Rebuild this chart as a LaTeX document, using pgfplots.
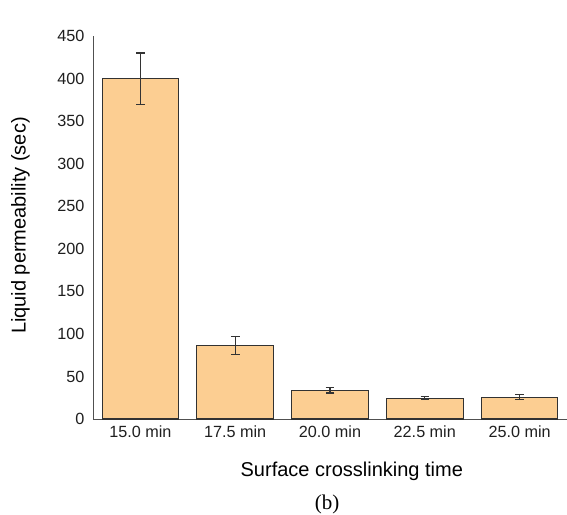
\documentclass[border=0pt]{standalone}
\usepackage{pgfplots}
\pgfplotsset{compat=1.18}
\usepackage{fontspec}
\setmainfont{Liberation Sans}
\newfontfamily\timesfont{Liberation Serif}
\definecolor{barfill}{RGB}{252,206,146}
\definecolor{baredge}{RGB}{50,50,50}
\definecolor{axisgray}{RGB}{80,80,80}
\begin{document}
\begin{tikzpicture}
\useasboundingbox (-93bp,-96bp) rectangle (474bp,419bp);
\begin{axis}[
  scale only axis,
  width=474bp, height=383bp,
  xmin=-0.5, xmax=4.5,
  ymin=0, ymax=450,
  ytick={0,50,...,450},
  xtick={0,1,2,3,4},
  xticklabels={15.0 min,17.5 min,20.0 min,22.5 min,25.0 min},
  axis x line=bottom, axis y line=left,
  axis line style={-, draw=axisgray, line width=1pt},
  major tick length=0pt,
  tick label style={font=\fontsize{16.2bp}{19bp}\selectfont, text=black!88},
  /pgf/number format/assume math mode=true,
  yticklabel style={xshift=-5bp},
  xticklabel style={yshift=-3bp},
  xlabel={Surface crosslinking time},
  xlabel style={font=\fontsize{20bp}{24bp}\selectfont, at={(axis description cs:0.546,-0.136)}, anchor=center},
  ylabel={Liquid permeability (sec)},
  ylabel style={font=\fontsize{20bp}{24bp}\selectfont, at={(axis description cs:-0.153,0.505)}, anchor=center, rotate=0},
  clip=false,
]
\addplot[ybar, bar width=0.808, fill=barfill, draw=baredge, line width=1.1pt,
  error bars/.cd, y dir=both, y explicit,
  error bar style={line width=1.1pt, draw=black!80},
  error mark options={rotate=90, mark size=4.3bp, line width=1.1pt, draw=black!80}]
  coordinates {
  (0,400) +- (0,30)
  (1,86.6) +- (0,10.5)
  (2,33.5) +- (0,3)
  (3,24.3) +- (0,1.7)
  (4,25.5) +- (0,3)
  };
\node[font=\timesfont\fontsize{21bp}{24bp}\selectfont, anchor=center] at (axis description cs:0.494,-0.222) {(b)};
\end{axis}
\end{tikzpicture}
\end{document}
